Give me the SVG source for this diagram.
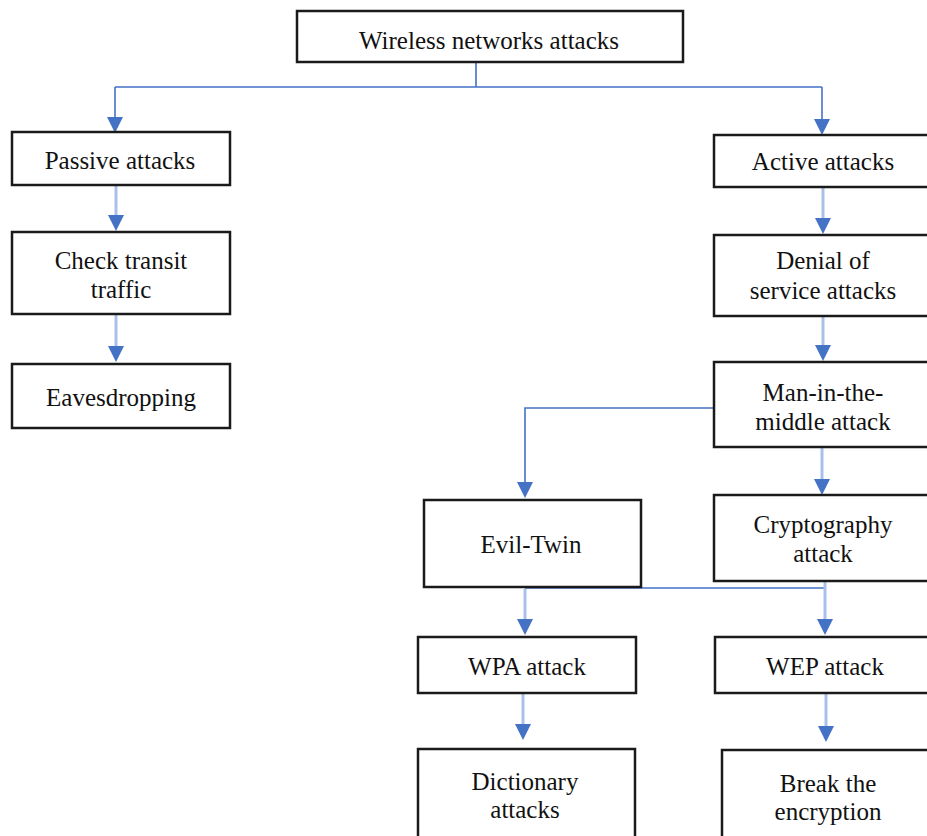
<svg xmlns="http://www.w3.org/2000/svg" width="927" height="836" viewBox="0 0 927 836">
<defs>
<style>
.box{fill:#fff;stroke:#1a1a1a;stroke-width:2.5}
.t{font-family:"Liberation Serif","Times New Roman",serif;font-size:25px;fill:#111;text-anchor:middle}
.ln{fill:none;stroke:#4472c4;stroke-width:1.6}
.ar{fill:none;stroke:#a9c0ea;stroke-width:3}
.hd{fill:#4472c4}
</style>
</defs>
<rect width="927" height="836" fill="#fff"/>
<g id="connectors">
<path class="ln" d="M476,62 V87 M115,87 H822"/>
<path class="ln" d="M115,87 V118"/>
<path class="ln" d="M822,87 V120"/>
<path class="hd" d="M107,117 L123,117 L115,133 Z"/>
<path class="hd" d="M814,119 L830,119 L822,135 Z"/>
<path class="ar" d="M116,186 V216"/><path class="hd" d="M108,215 L124,215 L116,231 Z"/>
<path class="ar" d="M116,315 V347"/><path class="hd" d="M108,346 L124,346 L116,362 Z"/>
<path class="ar" d="M823,188 V219"/><path class="hd" d="M815,218 L831,218 L823,234 Z"/>
<path class="ar" d="M823,317 V346"/><path class="hd" d="M815,345 L831,345 L823,361 Z"/>
<path class="ln" d="M714,408 H525 V483"/><path class="hd" d="M517,482 L533,482 L525,498 Z"/>
<path class="ar" d="M822,448 V480"/><path class="hd" d="M814,479 L830,479 L822,495 Z"/>
<path class="ln" d="M525,588 H826"/>
<path class="ar" d="M825,572 V620"/><path class="hd" d="M817,619 L833,619 L825,635 Z"/>
<path class="ar" d="M525,589 V620"/><path class="hd" d="M517,619 L533,619 L525,635 Z"/>
<path class="ar" d="M523,694 V725"/><path class="hd" d="M515,724 L531,724 L523,740 Z"/>
<path class="ar" d="M826,694 V727"/><path class="hd" d="M818,726 L834,726 L826,742 Z"/>
</g>
<g id="n-root"><rect class="box" x="297" y="11" width="386" height="51"/><text class="t" x="489" y="49">Wireless networks attacks</text></g>
<g id="n-passive"><rect class="box" x="12" y="132" width="218" height="53"/><text class="t" x="120" y="169">Passive attacks</text></g>
<g id="n-check"><rect class="box" x="12" y="232" width="218" height="82"/><text class="t" x="121" y="269">Check transit</text><text class="t" x="121" y="298">traffic</text></g>
<g id="n-eaves"><rect class="box" x="12" y="364" width="218" height="64"/><text class="t" x="121" y="406">Eavesdropping</text></g>
<g id="n-active"><rect class="box" x="714" y="135" width="222" height="52"/><text class="t" x="823" y="170">Active attacks</text></g>
<g id="n-dos"><rect class="box" x="714" y="235" width="222" height="81"/><text class="t" x="823" y="269">Denial of</text><text class="t" x="823" y="299">service attacks</text></g>
<g id="n-mitm"><rect class="box" x="714" y="362" width="222" height="85"/><text class="t" x="823" y="401">Man-in-the-</text><text class="t" x="823" y="430">middle attack</text></g>
<g id="n-evil"><rect class="box" x="424" y="500" width="217" height="87"/><text class="t" x="531" y="553">Evil-Twin</text></g>
<g id="n-crypto"><rect class="box" x="714" y="495" width="222" height="86"/><text class="t" x="823" y="533">Cryptography</text><text class="t" x="823" y="562">attack</text></g>
<g id="n-wpa"><rect class="box" x="418" y="637" width="218" height="56"/><text class="t" x="527" y="675">WPA attack</text></g>
<g id="n-wep"><rect class="box" x="715" y="637" width="221" height="56"/><text class="t" x="825" y="675">WEP attack</text></g>
<g id="n-dict"><rect class="box" x="418" y="749" width="217" height="100"/><text class="t" x="525" y="790">Dictionary</text><text class="t" x="525" y="818">attacks</text></g>
<g id="n-break"><rect class="box" x="722" y="750" width="214" height="100"/><text class="t" x="828" y="792">Break the</text><text class="t" x="828" y="820">encryption</text></g>
</svg>
